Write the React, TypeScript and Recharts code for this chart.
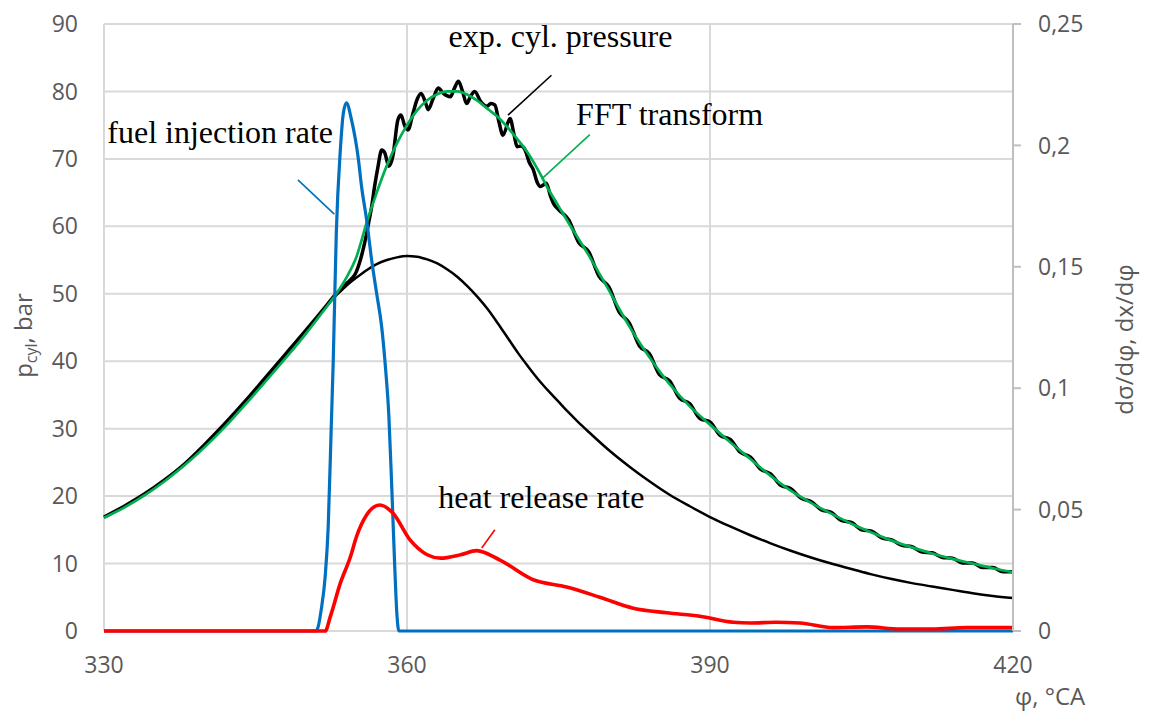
import { ComposedChart, Line, XAxis, YAxis, CartesianGrid, ReferenceLine, ReferenceDot } from 'recharts';

// crank angle ticks and axis ticks
const phiTicks = [330, 360, 390, 420];
const pTicks = [0, 10, 20, 30, 40, 50, 60, 70, 80, 90];
const rateTicks = [0, 0.05, 0.1, 0.15, 0.2, 0.25];

// motored pressure, bar
const motoredPhi = [330, 332, 334, 336, 338, 340, 342, 344, 346, 348, 350, 352, 353, 354, 355, 356, 357, 358, 359, 360, 361, 362, 363, 364, 365, 366, 367, 368, 369, 370, 371, 372, 373, 374, 375, 376, 377, 378, 380, 382, 384, 386, 388, 390, 392, 394, 396, 398, 400, 402, 404, 406, 408, 410, 412, 414, 416, 418, 420];
const motoredP = [16.8, 18.4, 20.2, 22.3, 24.7, 27.6, 30.7, 34.0, 37.5, 41.0, 44.5, 48.1, 49.8, 51.2, 52.4, 53.5, 54.4, 55.0, 55.4, 55.6, 55.5, 55.1, 54.5, 53.6, 52.5, 51.1, 49.5, 47.7, 45.6, 43.4, 41.2, 39.2, 37.3, 35.6, 34.0, 32.4, 30.9, 29.5, 26.8, 24.4, 22.2, 20.2, 18.5, 16.9, 15.5, 14.2, 13.0, 11.9, 10.9, 10.0, 9.2, 8.4, 7.7, 7.1, 6.6, 6.1, 5.6, 5.2, 4.9];

// experimental cylinder pressure, bar
const expPhi = [330, 332, 334, 336, 338, 340, 342, 344, 346, 348, 350, 351, 352, 353, 353.5, 354, 354.5, 354.9, 355.3, 355.8, 356.2, 356.5, 356.8, 357.1, 357.5, 357.8, 358.2, 358.6, 359.1, 359.4, 359.8, 360.1, 360.6, 361, 361.4, 361.8, 362.1, 362.6, 363.1, 363.6, 364.3, 364.7, 365.1, 365.5, 365.9, 366.3, 366.7, 367.3, 367.9, 368.3, 368.7, 369.1, 369.5, 370.2, 370.6, 370.9, 371.3, 371.7, 372.1, 372.5, 372.9, 373.2, 373.8, 374.2, 374.5, 375, 376, 377, 378, 379, 380, 381, 382, 383, 384, 385, 386, 387, 388, 389, 390, 391, 392, 393, 394, 395, 396, 397, 398, 399, 400, 401, 402, 403, 404, 405, 406, 407, 408, 409, 410, 411, 412, 413, 414, 415, 416, 417, 418, 419, 420];
const expP = [16.9, 18.5, 20.3, 22.4, 24.8, 27.7, 30.8, 34.1, 37.6, 41.1, 44.6, 46.4, 48.2, 50.0, 50.6, 51.5, 52.2, 53.0, 54.6, 57.5, 60.5, 62.9, 66.0, 68.6, 71.3, 70.9, 68.9, 70.4, 75.8, 76.5, 74.8, 74.3, 76.8, 78.8, 79.7, 78.5, 77.3, 79.0, 80.5, 79.7, 79.2, 80.5, 81.5, 80.0, 78.2, 79.3, 80.0, 78.5, 77.8, 78.2, 78.0, 75.5, 73.5, 76.0, 73.6, 71.8, 71.9, 71.3, 69.5, 68.4, 66.5, 65.9, 66.4, 64.5, 63.4, 62.5, 61.0, 57.6, 56.2, 52.6, 51.0, 47.3, 45.7, 42.3, 41.1, 38.0, 37.1, 34.5, 33.7, 31.5, 31.0, 29.0, 28.4, 26.5, 25.8, 24.0, 23.3, 21.6, 21.1, 19.7, 19.2, 18.0, 17.6, 16.4, 16.1, 15.0, 14.8, 13.8, 13.5, 12.7, 12.5, 11.7, 11.6, 10.9, 10.8, 10.1, 10.1, 9.4, 9.4, 8.8, 8.8];

// FFT filtered pressure, bar
const fftPhi = [330, 332, 334, 336, 338, 340, 342, 344, 346, 348, 350, 352, 353, 354, 355, 356, 357, 358, 359, 360, 361, 362, 363, 364, 365, 366, 367, 368, 369, 370, 371, 372, 373, 374, 375, 376, 377, 378, 379, 380, 381, 382, 383, 384, 385, 386, 388, 390, 392, 394, 396, 398, 400, 402, 404, 406, 408, 410, 412, 414, 416, 418, 420];
const fftP = [16.8, 18.3, 20.1, 22.2, 24.6, 27.3, 30.3, 33.6, 37.0, 40.5, 44.1, 48.0, 50.0, 52.4, 55.5, 60.5, 65.0, 69.0, 72.3, 75.0, 77.2, 78.7, 79.6, 80.0, 80.0, 79.5, 78.6, 77.4, 76.2, 74.6, 72.8, 70.8, 68.3, 65.5, 63.0, 60.5, 58.1, 55.7, 53.1, 50.5, 47.8, 45.2, 42.8, 40.6, 38.5, 36.6, 33.3, 30.6, 28.0, 25.5, 23.0, 20.8, 19.0, 17.4, 15.9, 14.6, 13.4, 12.4, 11.5, 10.7, 10.0, 9.3, 8.7];

// fuel injection rate, right axis
const injPhi = [330, 351.0, 351.2, 351.5, 351.9, 352.2, 352.5, 352.7, 353.0, 353.4, 353.7, 354.0, 354.5, 355.2, 355.5, 356.0, 356.5, 357.0, 357.5, 357.9, 358.2, 358.5, 358.8, 359.0, 359.2, 420];
const injRate = [0, 0, 0.0017, 0.0086, 0.0225, 0.0431, 0.0842, 0.1117, 0.1639, 0.1981, 0.2133, 0.2175, 0.2106, 0.1939, 0.1831, 0.1694, 0.1528, 0.1389, 0.125, 0.1069, 0.0889, 0.0583, 0.025, 0.0069, 0, 0];

// heat release rate, right axis
const hrrPhi = [330, 351.9, 352.4, 353.4, 354.4, 355.0, 356.0, 357.3, 358.6, 360.3, 362.0, 363.3, 365.3, 366.9, 369.2, 372.5, 375.8, 379.1, 382.4, 385.7, 389.0, 392.3, 394.0, 396.5, 398.9, 402.2, 405.5, 408.8, 412.0, 415.4, 420];
const hrrRate = [0, 0, 0.0058, 0.0197, 0.0306, 0.0389, 0.0478, 0.0519, 0.0486, 0.0375, 0.0314, 0.03, 0.0314, 0.0331, 0.0292, 0.0211, 0.0181, 0.0139, 0.0094, 0.0075, 0.0061, 0.0036, 0.0033, 0.0036, 0.0033, 0.0014, 0.0017, 0.0008, 0.0008, 0.0014, 0.0014];

// callouts: text anchor (phi, bar) and leader line ends
const notes = [
  { text: 'fuel injection rate', x: 341.5, y: 72.4, color: '#0070c0', from: [349.2, 66.9], to: [352.8, 61.8] },
  { text: 'exp. cyl. pressure', x: 375.2, y: 86.6, color: '#000000', from: [374.3, 82.4], to: [370.0, 76.5] },
  { text: 'FFT transform', x: 386.0, y: 75.0, color: '#00b050', from: [378.1, 73.6], to: [373.4, 67.1] },
  { text: 'heat release rate', x: 373.3, y: 18.2, color: '#ff0000', from: [368.7, 15.0], to: [367.4, 12.3] },
];

const toPoints = (phi: number[], v: number[]) => phi.map((p, i) => ({ phi: p, v: v[i] }));

const tickStyle = { fill: '#595959', fontSize: 23, fontFamily: 'Open Sans' };
const labelFont = { fill: '#595959', fontSize: 24, fontFamily: 'Open Sans' };

const LeftLabel = (props: any) => {
  const { x, y, height } = props.viewBox;
  const cx = x + 24;
  const cy = y + height / 2 + 8;
  return (
    <text x={cx} y={cy} textAnchor="middle" transform={`rotate(-90, ${cx}, ${cy})`} {...labelFont}>
      p<tspan fontSize={16} baselineShift="-5">cyl</tspan>, bar
    </text>
  );
};

const RightLabel = (props: any) => {
  const { x, y, height } = props.viewBox;
  const cx = x + 120;
  const cy = y + height / 2 + 12;
  return (
    <text x={cx} y={cy} textAnchor="middle" transform={`rotate(-90, ${cx}, ${cy})`} {...labelFont}>
      dσ/dφ, dx/dφ
    </text>
  );
};

const BottomLabel = (props: any) => {
  const { x, y, width } = props.viewBox;
  return (
    <text x={x + width + 2} y={y + 74} textAnchor="start" {...labelFont}>
      φ, °CA
    </text>
  );
};

export default function App() {
  return (
    <div style={{ width: 1137, height: 705 }}>
      <ComposedChart width={1137} height={705} margin={{ top: 16, right: 0, left: 0, bottom: 0 }}>
        <CartesianGrid stroke="#d9d9d9" strokeWidth={2} yAxisId="left" />
        <XAxis
          dataKey="phi"
          type="number"
          domain={[330, 420]}
          ticks={phiTicks}
          height={82}
          axisLine={false}
          tickLine={false}
          tickSize={0}
          tickMargin={26}
          tick={tickStyle}
          label={BottomLabel}
        />
        <YAxis
          yAxisId="left"
          domain={[0, 90]}
          ticks={pTicks}
          width={96}
          axisLine={false}
          tickLine={false}
          tickSize={0}
          tickMargin={26}
          tick={tickStyle}
          label={LeftLabel}
        />
        <YAxis
          yAxisId="right"
          orientation="right"
          domain={[0, 0.25]}
          ticks={rateTicks}
          width={132}
          axisLine={{ stroke: '#bfbfbf', strokeWidth: 2 }}
          tickLine={{ stroke: '#bfbfbf', strokeWidth: 2 }}
          tickSize={8}
          tickMargin={17}
          tick={tickStyle}
          tickFormatter={(v: number) => String(v).replace('.', ',')}
          label={RightLabel}
        />
        <Line data={toPoints(motoredPhi, motoredP)} dataKey="v" yAxisId="left" type="monotone" stroke="#000000" strokeWidth={2.5} dot={false} isAnimationActive={false} />
        <Line data={toPoints(expPhi, expP)} dataKey="v" yAxisId="left" type="monotone" stroke="#000000" strokeWidth={3.5} dot={false} isAnimationActive={false} />
        <Line data={toPoints(fftPhi, fftP)} dataKey="v" yAxisId="left" type="monotone" stroke="#00b050" strokeWidth={2.7} dot={false} isAnimationActive={false} />
        <Line data={toPoints(injPhi, injRate)} dataKey="v" yAxisId="right" type="monotone" stroke="#0070c0" strokeWidth={3.2} dot={false} isAnimationActive={false} />
        <Line data={toPoints(hrrPhi, hrrRate)} dataKey="v" yAxisId="right" type="monotone" stroke="#ff0000" strokeWidth={3.6} dot={false} isAnimationActive={false} />
        {notes.map((n) => (
          <ReferenceLine
            key={`l-${n.text}`}
            yAxisId="left"
            segment={[{ x: n.from[0], y: n.from[1] }, { x: n.to[0], y: n.to[1] }]}
            stroke={n.color}
            strokeWidth={1.6}
            ifOverflow="visible"
          />
        ))}
        {notes.map((n) => (
          <ReferenceDot
            key={`t-${n.text}`}
            yAxisId="left"
            x={n.x}
            y={n.y}
            r={0}
            ifOverflow="visible"
            shape={(p: any) => (
              <text x={p.cx} y={p.cy} textAnchor="middle" fill="#000000" fontSize={32} fontFamily="Liberation Serif">
                {n.text}
              </text>
            )}
          />
        ))}
      </ComposedChart>
    </div>
  );
}
